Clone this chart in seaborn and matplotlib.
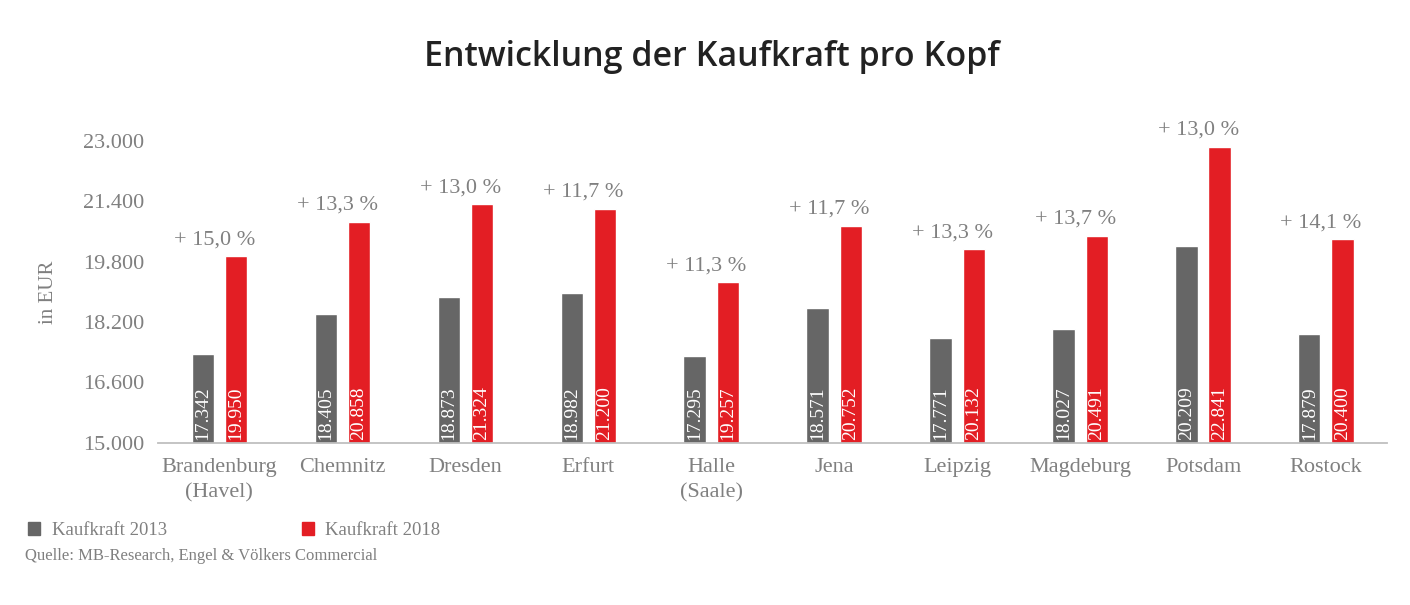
import numpy as np
import pandas as pd
import matplotlib.pyplot as plt
import seaborn as sns
from matplotlib.ticker import FuncFormatter

cities = ["Brandenburg\n(Havel)", "Chemnitz", "Dresden", "Erfurt", "Halle\n(Saale)",
          "Jena", "Leipzig", "Magdeburg", "Potsdam", "Rostock"]
kk_2013 = [17342, 18405, 18873, 18982, 17295, 18571, 17771, 18027, 20209, 17879]
kk_2018 = [19950, 20858, 21324, 21200, 19257, 20752, 20132, 20491, 22841, 20400]
growth = ["+ 15,0 %", "+ 13,3 %", "+ 13,0 %", "+ 11,7 %", "+ 11,3 %",
          "+ 11,7 %", "+ 13,3 %", "+ 13,7 %", "+ 13,0 %", "+ 14,1 %"]
series = ["Kaufkraft 2013", "Kaufkraft 2018"]

df = pd.DataFrame({
    "Stadt": cities * 2,
    "Wert": kk_2013 + kk_2018,
    "Serie": [series[0]] * len(cities) + [series[1]] * len(cities),
})

sns.set_style("white")
plt.rcParams["font.family"] = ["Liberation Serif", "DejaVu Serif"]

grey = "#666666"
red = "#E31E24"
txt = "#808080"

fig = plt.figure(figsize=(14.1, 6.05), dpi=100)
ax = fig.add_axes([0.112, 0.268, 0.872, 0.499])

sns.barplot(data=df, x="Stadt", y="Wert", hue="Serie", palette=[grey, red],
            width=0.54, gap=0.33, legend=False, ax=ax, saturation=1)

ax.set_ylim(15000, 23000)
ax.set_yticks(np.arange(15000, 23001, 1600))
ax.yaxis.set_major_formatter(FuncFormatter(lambda v, p: f"{int(v):,}".replace(",", ".")))
ax.tick_params(axis="both", length=0, colors=txt, labelsize=16)
ax.tick_params(axis="y", pad=10)
ax.tick_params(axis="x", pad=11)
for lbl in ax.get_xticklabels():
    lbl.set_linespacing(1.45)
ax.set_xlabel("")
ax.set_ylabel("in EUR", color=txt, fontsize=15, labelpad=18)

for s in ["top", "right", "left"]:
    ax.spines[s].set_visible(False)
ax.spines["bottom"].set_color("#BFBFBF")
ax.spines["bottom"].set_linewidth(1.3)

# values inside bars
for cont in ax.containers:
    for bar in cont:
        v = bar.get_height()
        ax.text(bar.get_x() + bar.get_width() / 2, 15080, f"{int(v):,}".replace(",", "."),
                rotation=90, ha="center", va="bottom", color="white", fontsize=14)

# growth labels above the groups
red_bars = ax.containers[1]
for i, bar in enumerate(red_bars):
    ax.annotate(growth[i], (i - 0.04, bar.get_height()), xytext=(0, 5),
                textcoords="offset points", ha="center", va="bottom",
                color=txt, fontsize=16, annotation_clip=False)

fig.text(0.505, 0.905, "Entwicklung der Kaufkraft pro Kopf", ha="center", va="center",
         fontsize=24.5, fontweight="semibold", color="#222222",
         family=["Open Sans", "DejaVu Sans"])

handles = [plt.Rectangle((0, 0), 1, 1, color=grey), plt.Rectangle((0, 0), 1, 1, color=red)]
fig.legend(handles, series, loc="center left", bbox_to_anchor=(0.008, 0.123), ncol=2,
           frameon=False, fontsize=13.5, labelcolor=txt, handlelength=0.65,
           handleheight=0.65, handletextpad=0.6, columnspacing=7.2)

fig.text(0.018, 0.081, "Quelle: MB-Research, Engel & Völkers Commercial",
         ha="left", va="center", fontsize=12, color=txt)

fig.savefig("out.png", dpi=100)
